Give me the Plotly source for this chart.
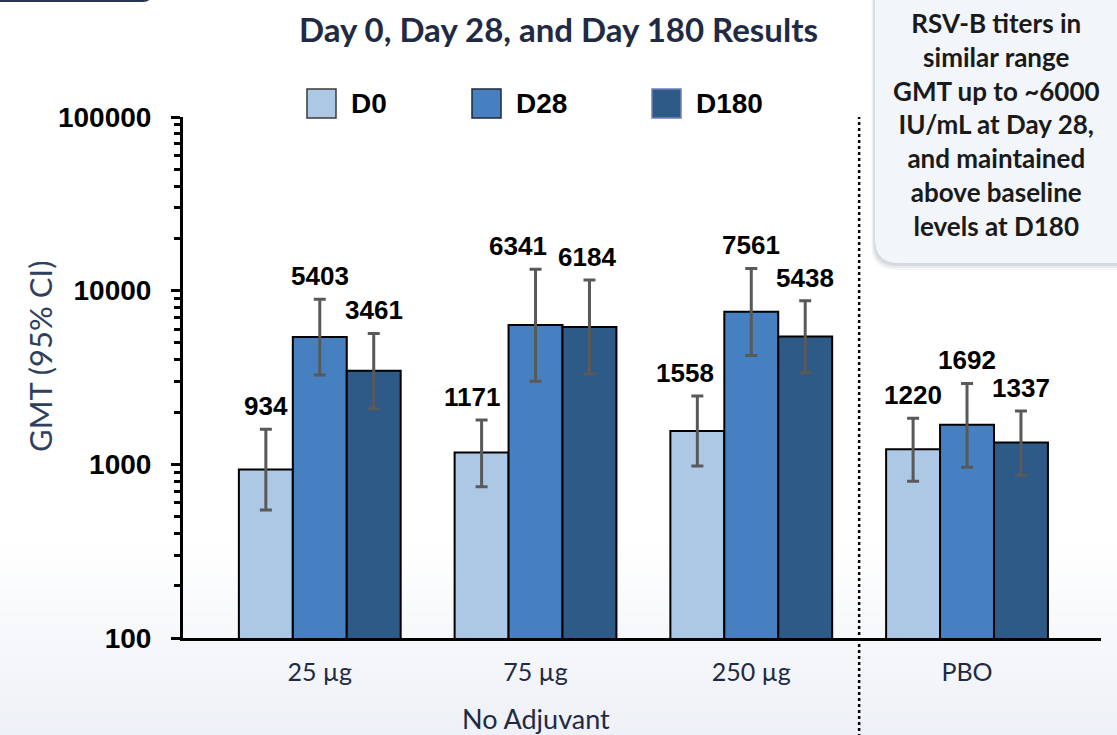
import numpy as np
import plotly.graph_objects as go

# ---- data ----
groups = ["25 µg", "75 µg", "250 µg", "PBO"]
series = ["D0", "D28", "D180"]
gmt = {
    "D0":   [934, 1171, 1558, 1220],
    "D28":  [5403, 6341, 7561, 1692],
    "D180": [3461, 6184, 5438, 1337],
}
ci_low = {
    "D0":   [546, 743, 977, 798],
    "D28":  [3266, 3006, 4237, 962],
    "D180": [2090, 3311, 3366, 865],
}
ci_high = {
    "D0":   [1590, 1799, 2472, 1841],
    "D28":  [8913, 13265, 13430, 2925],
    "D180": [5676, 11510, 8750, 2027],
}
y_ticks = [100, 1000, 10000, 100000]
y_tick_text = ["100", "1000", "10000", "100000"]
colors = {"D0": "#adc8e4", "D28": "#4680c0", "D180": "#2e5a87"}
legend_border = {"D0": "#3a3a3a", "D28": "#1e2a3a", "D180": "#7080c0"}

title_text = "Day 0, Day 28, and Day 180 Results"
note_lines = ["RSV-B titers in", "similar range", "GMT up to ~6000",
              "IU/mL at Day 28,", "and maintained", "above baseline", "levels at D180"]
group_label = "No Adjuvant"
y_label = "GMT (95% CI)"

# ---- page geometry (pixels) ----
W, H = 1117, 735
ML, MR, MT, MB = 183, 16, 117, 97
PW, PH = W - ML - MR, H - MT - MB


def px(x):
    return (x - ML) / PW


def py(y):
    return (H - MB - y) / PH


BARGAP = 0.25
n = len(series)
bar_w = (1 - BARGAP) / n
offsets = [(-(n - 1) / 2 + k) * bar_w for k in range(n)]

# small horizontal nudges (px) so neighbouring value labels don't collide
label_nudge = {("D0", 1): -10, ("D28", 1): -18, ("D180", 1): -2, ("D0", 2): -12}

fig = go.Figure()
for k, s in enumerate(series):
    v = np.array(gmt[s], dtype=float)
    lo = np.array(ci_low[s], dtype=float)
    hi = np.array(ci_high[s], dtype=float)
    fig.add_trace(go.Bar(
        name=s, x=groups, y=v,
        marker=dict(color=colors[s], line=dict(color="#000000", width=2)),
        error_y=dict(type="data", symmetric=False, array=hi - v, arrayminus=v - lo,
                     color="#595959", thickness=3, width=6),
        showlegend=False,
    ))
    for i, g in enumerate(groups):
        fig.add_annotation(
            x=i + offsets[k], y=np.log10(hi[i]), xref="x", yref="y",
            text=f"<b>{gmt[s][i]}</b>", showarrow=False, yanchor="bottom", yshift=6,
            xshift=label_nudge.get((s, i), 0),
            font=dict(family="Liberation Sans, Arial", size=26, color="#000000"),
        )

shapes = []
# soft gradient towards the bottom of the page
n_strips = 40
y_start, y_end = 545, H
c0, c1 = np.array([255, 255, 255]), np.array([238, 241, 247])
for j in range(n_strips):
    ya = y_start + (y_end - y_start) * j / n_strips
    yb = y_start + (y_end - y_start) * (j + 1) / n_strips
    c = (c0 + (c1 - c0) * (j + 0.5) / n_strips).astype(int)
    shapes.append(dict(type="rect", xref="paper", yref="paper",
                       x0=px(-5), x1=px(W + 5), y0=py(yb + 0.5), y1=py(ya),
                       fillcolor=f"rgb({c[0]},{c[1]},{c[2]})", line=dict(width=0), layer="below"))

# separator between the adjuvant groups and placebo
shapes.append(dict(type="line", xref="x", yref="paper", x0=2.5, x1=2.5,
                   y0=py(H + 2), y1=1, line=dict(color="#000000", width=2.5, dash="dot")))


def rounded_rect(x0, y0, x1, y1, r):
    # pixel corners -> paper path with rounded corners
    X = lambda v: f"{px(v):.5f}"
    Y = lambda v: f"{py(v):.5f}"
    return (f"M {X(x0 + r)},{Y(y0)} L {X(x1 - r)},{Y(y0)} Q {X(x1)},{Y(y0)} {X(x1)},{Y(y0 + r)} "
            f"L {X(x1)},{Y(y1 - r)} Q {X(x1)},{Y(y1)} {X(x1 - r)},{Y(y1)} "
            f"L {X(x0 + r)},{Y(y1)} Q {X(x0)},{Y(y1)} {X(x0)},{Y(y1 - r)} "
            f"L {X(x0)},{Y(y0 + r)} Q {X(x0)},{Y(y0)} {X(x0 + r)},{Y(y0)} Z")


# callout box with a soft shadow
for d, op in [(7, 0.05), (5, 0.07), (3, 0.09)]:
    shapes.append(dict(type="path", xref="paper", yref="paper",
                       path=rounded_rect(875 - d / 2, -40, 1140, 263 + d, 24),
                       fillcolor=f"rgba(60,70,90,{op})", line=dict(width=0)))
shapes.append(dict(type="path", xref="paper", yref="paper",
                   path=rounded_rect(875, -40, 1140, 263, 24),
                   fillcolor="#f2f5fa", line=dict(width=0)))

# edge of the header panel above
shapes.append(dict(type="path", xref="paper", yref="paper",
                   path=rounded_rect(-20, -60, 151, 1, 8),
                   fillcolor="rgba(0,0,0,0)", line=dict(color="#2a3650", width=2)))

# legend swatches
legend_sq = {"D0": 307, "D28": 472, "D180": 652}
for s in series:
    x0 = legend_sq[s]
    shapes.append(dict(type="rect", xref="paper", yref="paper",
                       x0=px(x0), x1=px(x0 + 29), y0=py(118), y1=py(89),
                       fillcolor=colors[s], line=dict(color=legend_border[s], width=1.5)))
    fig.add_annotation(x=px(x0 + 42), y=py(103.5), xref="paper", yref="paper",
                       text=f"<b>{s}</b>", showarrow=False, xanchor="left", yanchor="middle",
                       font=dict(family="Liberation Sans, Arial", size=28, color="#000000"))

# title
fig.add_annotation(x=px(558), y=py(29), xref="paper", yref="paper", text=f"<b>{title_text}</b>",
                   showarrow=False, xanchor="center", yanchor="middle",
                   font=dict(family="Lato", size=33, color="#1f2a44"))

# callout text
fig.add_annotation(x=px(996), y=py(125), xref="paper", yref="paper",
                   text="<br>".join(f"<b>{t}</b>" for t in note_lines),
                   showarrow=False, xanchor="center", yanchor="middle", align="center",
                   font=dict(family="Lato", size=26, color="#1a1a1a"))

# group caption and axis title
fig.add_annotation(x=1, y=py(718), xref="x", yref="paper", text=group_label, showarrow=False,
                   xanchor="center", yanchor="middle",
                   font=dict(family="Lato", size=27, color="#1f2a44"))
fig.add_annotation(x=px(40), y=py(357), xref="paper", yref="paper", text=y_label, textangle=-90,
                   showarrow=False, xanchor="center", yanchor="middle",
                   font=dict(family="Lato", size=31, color="#2f3f5e"))

minor_vals = [m * 10 ** e for e in range(2, 5) for m in range(2, 10)]

fig.update_layout(
    width=W, height=H,
    margin=dict(l=ML, r=MR, t=MT, b=MB, autoexpand=False),
    paper_bgcolor="#ffffff", plot_bgcolor="rgba(0,0,0,0)",
    barmode="group", bargap=BARGAP, bargroupgap=0,
    shapes=shapes, showlegend=False,
    xaxis=dict(range=[-0.634, 3.621], showline=True, linecolor="#000000", linewidth=3,
               ticks="", showgrid=False, zeroline=False, ticklabelstandoff=10,
               tickfont=dict(family="Lato", size=25, color="#1f2a44")),
    yaxis=dict(type="log", range=[2, 5], showline=True, linecolor="#000000", linewidth=3,
               tickvals=y_ticks, ticktext=y_tick_text, ticks="outside", ticklen=9, tickwidth=3,
               tickcolor="#000000", showgrid=False, zeroline=False, ticklabelstandoff=14,
               tickfont=dict(family="Liberation Sans, Arial", size=28, color="#000000", weight="bold"),
               minor=dict(tickvals=minor_vals, ticks="outside", ticklen=6, tickwidth=3,
                          tickcolor="#000000", showgrid=False)),
)

fig.write_html("out.html")
